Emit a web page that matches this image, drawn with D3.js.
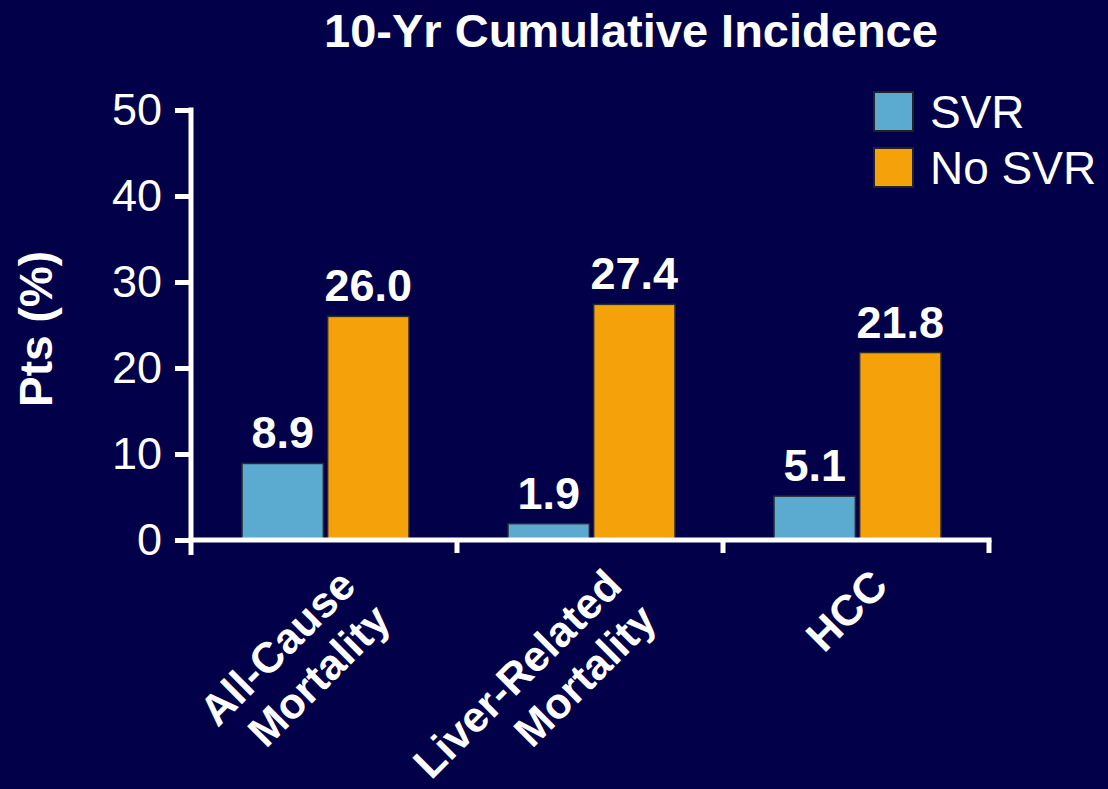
<!DOCTYPE html>
<html>
<head>
<meta charset="utf-8">
<script src="https://cdn.jsdelivr.net/npm/d3@7"></script>
<style>
  html, body { margin: 0; padding: 0; background: #020048; }
  svg { display: block; }
  text { font-family: "Liberation Sans", Arial, sans-serif; fill: #ffffff; }
</style>
</head>
<body>
<svg id="chart" width="1108" height="789"></svg>
<script>
const categories = ["All-Cause\nMortality", "Liver-Related\nMortality", "HCC"];
const seriesNames = ["SVR", "No SVR"];
const svrValues = [8.9, 1.9, 5.1];
const noSvrValues = [26.0, 27.4, 21.8];
const yTicks = [0, 10, 20, 30, 40, 50];
const title = "10-Yr Cumulative Incidence";
const yTitle = "Pts (%)";
const colors = ["#5BAAD0", "#F4A10A"];

const svg = d3.select("#chart");
const W = 1108, H = 789;
svg.append("rect").attr("width", W).attr("height", H).attr("fill", "#020048");

const y = d3.scaleLinear().domain([0, 50]).range([540, 110]);
const x = d3.scaleBand().domain(categories).range([191, 989]).padding(0);
const x1 = d3.scaleBand().domain(seriesNames).range([51, 218]).paddingInner(0.05);

const data = categories.map((c, i) => ({ cat: c, vals: [svrValues[i], noSvrValues[i]] }));

// Title
svg.append("text")
  .attr("x", 631).attr("y", 47)
  .attr("text-anchor", "middle")
  .attr("font-size", 47).attr("font-weight", "bold")
  .text(title);

// Y axis title
svg.append("text")
  .attr("transform", "translate(52,329) rotate(-90)")
  .attr("text-anchor", "middle")
  .attr("font-size", 46).attr("font-weight", "bold")
  .text(yTitle);

// Y axis
const yAxis = d3.axisLeft(y).tickValues(yTicks).tickSize(16).tickSizeOuter(0).tickPadding(13);
const gy = svg.append("g").attr("transform", "translate(191,0)").call(yAxis);
gy.select(".domain").remove();
gy.selectAll(".tick line").attr("stroke", "#fff").attr("stroke-width", 5);
gy.selectAll(".tick text").attr("font-size", 45).attr("fill", "#fff")
  .style("font-family", "'Liberation Sans', Arial, sans-serif");

// Bars
const groups = svg.append("g").selectAll("g").data(data).join("g")
  .attr("transform", d => `translate(${x(d.cat)},0)`);
groups.selectAll("rect").data(d => d.vals.map((v, j) => ({ key: seriesNames[j], v, j })))
  .join("rect")
  .attr("x", d => x1(d.key))
  .attr("y", d => y(d.v))
  .attr("width", x1.bandwidth())
  .attr("height", d => y(0) - y(d.v))
  .attr("fill", d => colors[d.j])
  .attr("stroke", "#2a2a2a").attr("stroke-width", 1.5);
groups.selectAll("text.val").data(d => d.vals.map((v, j) => ({ key: seriesNames[j], v, j })))
  .join("text").attr("class", "val")
  .attr("x", d => x1(d.key) + x1.bandwidth() / 2)
  .attr("y", d => y(d.v) - 15)
  .attr("text-anchor", "middle")
  .attr("font-size", 45).attr("font-weight", "bold")
  .text(d => d.v.toFixed(1));

// Axis lines
const axisG = svg.append("g").attr("stroke", "#fff").attr("stroke-width", 5);
axisG.append("line").attr("x1", 191).attr("x2", 191).attr("y1", y(50) - 2.5).attr("y2", y(0) + 15);
axisG.append("line").attr("x1", 188.5).attr("x2", x.range()[1] + 2.5).attr("y1", y(0)).attr("y2", y(0));
axisG.selectAll("line.bt").data(categories).join("line").attr("class", "bt")
  .attr("x1", d => x(d) + x.bandwidth()).attr("x2", d => x(d) + x.bandwidth())
  .attr("y1", y(0)).attr("y2", y(0) + 13);

// Category labels
const lab = svg.append("g").selectAll("g").data(categories).join("g")
  .attr("transform", d => `translate(${x(d) + x.bandwidth() / 2 + 34},${y(0) + 48}) rotate(-45)`);
lab.each(function (d) {
  const lines = d.split("\n");
  d3.select(this).selectAll("text").data(lines).join("text")
    .attr("x", 0).attr("y", (l, i) => i * 49)
    .attr("text-anchor", "end")
    .attr("font-size", 43).attr("font-weight", "bold")
    .text(l => l);
});

// Legend
const leg = svg.append("g").selectAll("g").data(seriesNames).join("g")
  .attr("transform", (d, i) => `translate(874,${92 + i * 56})`);
leg.append("rect").attr("width", 39).attr("height", 39)
  .attr("fill", (d, i) => colors[i]).attr("stroke", "#222").attr("stroke-width", 2);
leg.append("text").attr("x", 56).attr("y", 36)
  .attr("font-size", 46).text(d => d);
</script>
</body>
</html>
